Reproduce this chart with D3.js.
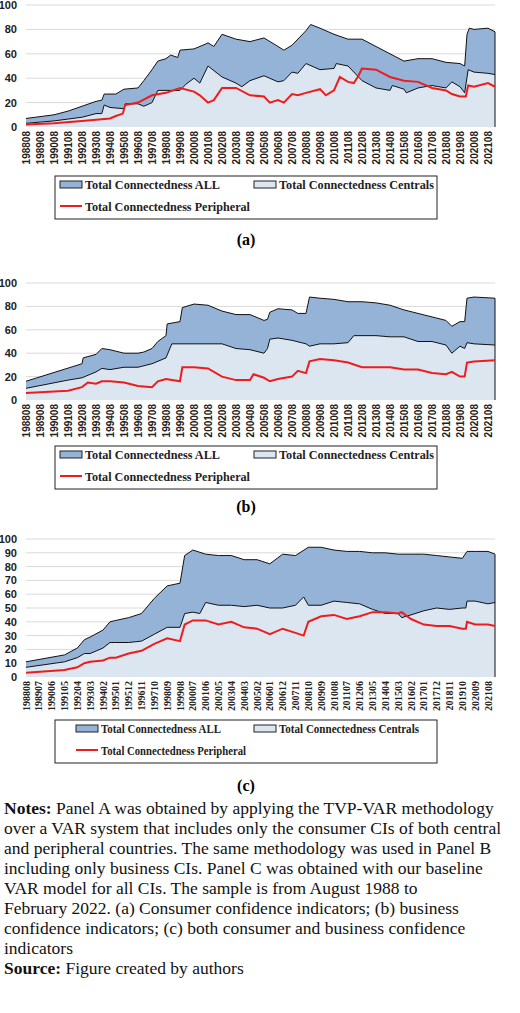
<!DOCTYPE html>
<html><head><meta charset="utf-8">
<script src="https://cdn.jsdelivr.net/npm/d3@7"></script>
<style>body{margin:0;background:#fff}</style>
</head><body>
<script>
// readings: [yyyymm, value]
const aAll = [[198808,7],[198908,8.5],[199008,10],[199108,13],[199208,17],[199308,21],[199401,22],[199403,27],[199408,27],[199501,27],[199508,31],[199608,32],[199701,38],[199708,47],[199801,54],[199808,56],[199812,59],[199906,57],[199908,63],[200008,64],[200106,68],[200108,69],[200201,66],[200208,76],[200308,72],[200408,70],[200508,73],[200608,66],[200701,63],[200708,67],[200808,79],[200812,84],[200908,81],[201008,76],[201108,72],[201208,72],[201308,66],[201408,60],[201508,54],[201608,56],[201708,56],[201808,53],[201908,52],[201912,50],[202002,76],[202004,81],[202008,80],[202108,81],[202202,78]];
const aCen = [[198808,3],[198908,4],[199008,5],[199108,6.5],[199208,8],[199308,11],[199401,11],[199403,18],[199408,16],[199508,15],[199509,19],[199608,19],[199701,17],[199708,20],[199801,30],[199808,30],[199908,30],[200001,35],[200008,40],[200101,36],[200108,50],[200208,41],[200308,36],[200401,33],[200408,38],[200508,42],[200608,37],[200701,38],[200708,45],[200801,44],[200808,52],[200908,47],[201008,48],[201010,52],[201108,50],[201208,38],[201308,32],[201408,30],[201410,34],[201508,31],[201510,28],[201608,32],[201708,34],[201808,32],[201901,37],[201908,33],[201912,28],[202003,47],[202008,45],[202108,44],[202202,43]];
const aPer = [[198808,2],[199008,3],[199208,5],[199308,6],[199408,7],[199501,9],[199507,11],[199509,18],[199608,20],[199708,26],[199808,28],[199908,32],[200008,29],[200101,26],[200108,20],[200201,22],[200208,32],[200308,32],[200408,26],[200508,25],[200601,20],[200608,22],[200701,20],[200708,27],[200801,26],[200808,28],[200908,31],[201001,26],[201008,30],[201101,41],[201108,37],[201201,36],[201205,42],[201208,48],[201308,47],[201408,41],[201508,38],[201608,37],[201708,32],[201808,30],[201901,27],[201908,25],[202001,25],[202003,34],[202008,33],[202108,36],[202202,33]];

const bAll = [[198808,16],[199208,31],[199209,36],[199308,39],[199401,44],[199408,43],[199508,40],[199608,40],[199701,41],[199708,44],[199801,50],[199808,55],[199809,65],[199908,67],[199910,79],[200008,82],[200108,81],[200208,76],[200308,73],[200408,73],[200508,68],[200511,69],[200601,75],[200608,78],[200708,77],[200801,74],[200808,74],[200811,88],[200908,87],[201008,86],[201108,84],[201208,84],[201308,83],[201408,81],[201508,77],[201608,74],[201708,71],[201808,68],[201901,63],[201908,67],[201912,67],[202002,87],[202008,88],[202202,87]];
const bCen = [[198808,10],[199108,17],[199208,19],[199308,24],[199401,27],[199408,26],[199508,28],[199608,28],[199708,31],[199808,36],[199901,48],[199908,48],[200008,48],[200108,48],[200208,48],[200308,44],[200408,43],[200508,40],[200511,44],[200601,52],[200608,53],[200708,51],[200808,48],[200811,46],[200908,48],[201008,48],[201108,49],[201201,55],[201208,55],[201308,55],[201408,54],[201508,54],[201608,50],[201708,50],[201808,47],[201901,40],[201908,46],[201912,44],[202002,49],[202008,48],[202202,47]];
const bPer = [[198808,6],[199108,8],[199208,11],[199301,15],[199308,14],[199401,16],[199408,16],[199508,15],[199608,12],[199708,11],[199801,16],[199808,18],[199908,16],[199910,28],[200008,28],[200108,27],[200208,20],[200308,17],[200408,17],[200411,22],[200508,19],[200601,16],[200608,18],[200708,20],[200801,25],[200808,23],[200811,33],[200908,35],[201008,34],[201108,32],[201208,28],[201308,28],[201408,28],[201508,26],[201608,26],[201708,23],[201808,22],[201901,24],[201908,20],[201912,20],[202002,32],[202008,33],[202202,34]];

const cAll = [[198808,11],[199105,16],[199204,21],[199210,27],[199303,29],[199402,34],[199408,40],[199501,41],[199512,43],[199611,46],[199710,57],[199809,66],[199908,68],[199912,88],[200007,92],[200106,89],[200205,88],[200304,88],[200403,85],[200502,85],[200601,82],[200612,89],[200711,88],[200810,94],[200909,94],[201008,92],[201107,91],[201206,91],[201305,90],[201404,90],[201503,89],[201602,89],[201701,89],[201712,88],[201811,87],[201910,86],[202002,91],[202009,91],[202108,91],[202202,89]];
const cCen = [[198808,7],[199105,11],[199204,14],[199210,17],[199303,17],[199402,21],[199408,25],[199501,25],[199512,25],[199611,26],[199710,31],[199809,36],[199908,36],[199912,46],[200007,47],[200101,46],[200106,54],[200205,52],[200304,52],[200403,51],[200502,52],[200601,50],[200612,50],[200711,52],[200806,58],[200810,52],[200909,52],[201008,55],[201107,54],[201206,53],[201305,49],[201404,46],[201503,46],[201506,43],[201602,45],[201701,48],[201712,50],[201811,49],[201910,50],[202001,50],[202002,55],[202009,55],[202108,53],[202202,54]];
const cPer = [[198808,3],[199105,5],[199204,7],[199210,10],[199303,11],[199402,12],[199408,14],[199501,14],[199512,17],[199611,19],[199710,24],[199809,28],[199908,26],[199912,38],[200007,41],[200106,41],[200205,38],[200304,40],[200403,36],[200502,35],[200601,31],[200612,35],[200711,32],[200806,30],[200810,40],[200909,44],[201008,45],[201107,42],[201206,44],[201305,47],[201404,47],[201503,46],[201506,47],[201602,42],[201701,38],[201712,37],[201811,37],[201910,35],[202001,35],[202002,40],[202009,38],[202108,38],[202202,37]];

const yTicksAB = [0, 20, 40, 60, 80, 100];
const yTicksC = [0, 10, 20, 30, 40, 50, 60, 70, 80, 90, 100];
const legendLabels = ["Total Connectedness ALL", "Total Connectedness Centrals", "Total Connectedness Peripheral"];
const panelLabels = ["(a)", "(b)", "(c)"];
const notes = [
  ["Notes:", " Panel A was obtained by applying the TVP-VAR methodology"],
  ["", "over a VAR system that includes only the consumer CIs of both central"],
  ["", "and peripheral countries. The same methodology was used in Panel B"],
  ["", "including only business CIs. Panel C was obtained with our baseline"],
  ["", "VAR model for all CIs. The sample is from August 1988 to"],
  ["", "February 2022. (a) Consumer confidence indicators; (b) business"],
  ["", "confidence indicators; (c) both consumer and business confidence"],
  ["", "indicators"],
  ["Source:", " Figure created by authors"]
];

const W = 520, H = 1013;
const svg = d3.select("body").append("svg").attr("width", W).attr("height", H);

const monthIdx = ym => Math.floor(ym / 100) * 12 + (ym % 100) - (1988 * 12 + 8);
const fmtYM = i => { const m = 1988 * 12 + 7 + i; return String(Math.floor(m / 12)) + String(m % 12 + 1).padStart(2, "0"); };
const nMonths = monthIdx(202202);

function drawPanel(p) {
  const x = d3.scaleLinear().domain([0, nMonths]).range([26, 495]);
  const y = d3.scaleLinear().domain([0, 100]).range([p.y0, p.y100]);
  const g = svg.append("g");

  g.selectAll("line.grid").data(p.yTicks.filter(t => t > 0)).join("line")
    .attr("x1", 26).attr("x2", 495).attr("y1", y).attr("y2", y)
    .attr("stroke", "#d9d9d9").attr("stroke-width", 1);

  const area = d3.area().x(d => x(monthIdx(d[0]))).y0(y(0)).y1(d => y(d[1]));
  const line = d3.line().x(d => x(monthIdx(d[0]))).y(d => y(d[1]));

  g.append("path").datum(p.all).attr("d", area).attr("fill", "#95b3d7");
  g.append("path").datum(p.all).attr("d", line).attr("fill", "none").attr("stroke", "#111").attr("stroke-width", 1);
  g.append("path").datum(p.cen).attr("d", area).attr("fill", "#dce6f1");
  g.append("path").datum(p.cen).attr("d", line).attr("fill", "none").attr("stroke", "#111").attr("stroke-width", 1);
  g.append("line").attr("x1", 495).attr("x2", 495).attr("y1", y(0)).attr("y2", y(p.all[p.all.length - 1][1])).attr("stroke", "#111");
  g.append("path").datum(p.per).attr("d", line).attr("fill", "none").attr("stroke", "#ee1c1c").attr("stroke-width", 2);

  g.selectAll("text.yl").data(p.yTicks).join("text")
    .attr("x", 17).attr("y", d => y(d) + 4).attr("text-anchor", "end")
    .attr("font-family", "Arial, Liberation Sans").attr("font-weight", "bold").attr("font-size", 11)
    .attr("fill", "#222").text(d => d);

  const xt = d3.range(0, nMonths + 1, p.step);
  g.selectAll("text.xl").data(xt).join("text")
    .attr("transform", d => `translate(${x(d) + 3.5},${y(0) + 4}) rotate(-90)`)
    .attr("text-anchor", "end")
    .attr("font-family", p.xFont).attr("font-weight", "bold").attr("font-size", 10)
    .attr("fill", "#222").text(fmtYM);

  const lg = g.append("g").attr("transform", `translate(0,${p.ly})`);
  lg.append("rect").attr("x", 55).attr("y", 0).attr("width", 382).attr("height", 43)
    .attr("fill", "#fff").attr("stroke", "#222").attr("stroke-width", 1);
  const sw = [[p.lx1, 9, "#95b3d7", p.w1], [p.lx2, 9, "#dce6f1", p.w2]];
  sw.forEach((s, i) => {
    lg.append("rect").attr("x", s[0]).attr("y", s[1] - 4).attr("width", 22).attr("height", 7)
      .attr("fill", s[2]).attr("stroke", "#222");
    lg.append("text").attr("x", s[0] + 25).attr("y", s[1] + 4)
      .attr("textLength", s[3]).attr("lengthAdjust", "spacingAndGlyphs").text(legendLabels[i]);
  });
  lg.append("line").attr("x1", p.lx1).attr("x2", p.lx1 + 22).attr("y1", 30).attr("y2", 30)
    .attr("stroke", "#ee1c1c").attr("stroke-width", 2);
  lg.append("text").attr("x", p.lx1 + 25).attr("y", 35)
    .attr("textLength", p.w3).attr("lengthAdjust", "spacingAndGlyphs").text(legendLabels[2]);
  lg.selectAll("text").attr("font-family", "Liberation Serif, Times New Roman, serif")
    .attr("font-weight", "bold").attr("font-size", 13).attr("fill", "#222");

  svg.append("text").attr("x", 246).attr("y", p.ty).attr("text-anchor", "middle")
    .attr("font-family", "Liberation Serif, serif").attr("font-weight", "bold").attr("font-size", 16)
    .text(p.label);
}

drawPanel({all: aAll, cen: aCen, per: aPer, y0: 127, y100: 5, yTicks: yTicksAB, step: 12,
  xFont: "Arial, Liberation Sans", ly: 176, lx1: 60, lx2: 254, ty: 245, label: panelLabels[0],
  w1: 135, w2: 155, w3: 165});
drawPanel({all: bAll, cen: bCen, per: bPer, y0: 400, y100: 283, yTicks: yTicksAB, step: 12,
  xFont: "Arial, Liberation Sans", ly: 446, lx1: 60, lx2: 254, ty: 512, label: panelLabels[1],
  w1: 135, w2: 155, w3: 165});
drawPanel({all: cAll, cen: cCen, per: cPer, y0: 677, y100: 539, yTicks: yTicksC, step: 11,
  xFont: "Liberation Serif, serif", ly: 720, lx1: 76, lx2: 254, ty: 791, label: panelLabels[2],
  w1: 120, w2: 140, w3: 145});

const nt = svg.append("g").attr("font-family", "Liberation Serif, Times New Roman, serif")
  .attr("font-size", 17.5).attr("fill", "#111");
notes.forEach((l, i) => {
  const t = nt.append("text").attr("x", 4).attr("y", 814 + i * 20);
  if (l[0]) t.append("tspan").attr("font-weight", "bold").text(l[0]);
  t.append("tspan").text(l[1]);
});
</script>
</body></html>
